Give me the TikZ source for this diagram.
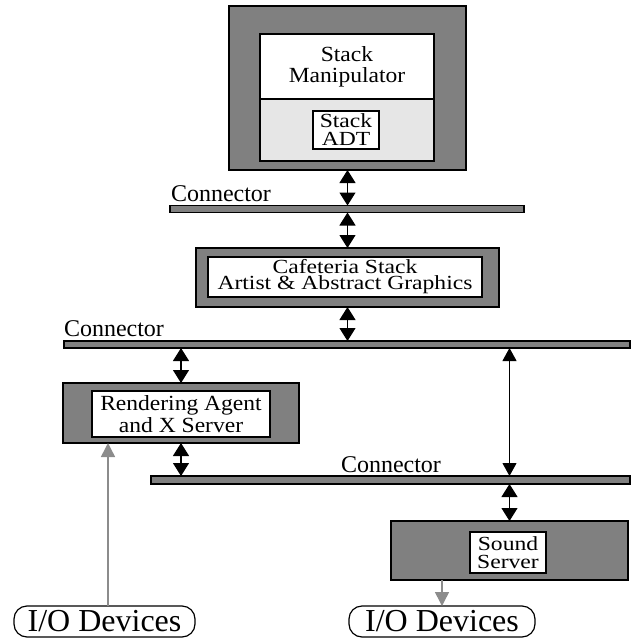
\documentclass[tikz,border=0pt]{standalone}
\usepackage{fontspec}
\setmainfont{Liberation Serif}
\newfontfamily\boxfont[FakeStretch=1.18]{Liberation Serif}
\newfontfamily\wideboxfont[FakeStretch=1.09]{Liberation Serif}
\usetikzlibrary{arrows.meta}

\definecolor{boxgray}{HTML}{808080}
\definecolor{lightfill}{HTML}{E6E6E6}
\definecolor{linkgray}{HTML}{8C8C8C}

\tikzset{
  every node/.style={inner sep=0pt, outer sep=0pt},
  outerbox/.style={draw, line width=1.2pt, fill=boxgray},
  innerbox/.style={draw, line width=1.2pt, fill=white, align=center,
    font=\boxfont\fontsize{20}{#1}\selectfont},
  innerbox/.default=18,
  wideinnerbox/.style={draw, line width=1.2pt, fill=white, align=center,
    font=\wideboxfont\fontsize{21.6}{#1}\selectfont},
  conbar/.style={draw, line width=1.2pt, fill=boxgray, minimum height=7pt},
  conlabel/.style={anchor=base west, font=\fontsize{24}{24}\selectfont},
  iodev/.style={draw, line width=1.2pt, rounded corners=13pt, minimum height=31pt,
    font=\fontsize{32}{32}\selectfont},
  biarrow/.style={line width=1.2pt, {Triangle[width=16pt,length=13pt]}-{Triangle[width=16pt,length=13pt]}},
  longarrow/.style={line width=1pt, {Triangle[width=14pt,length=13pt]}-{Triangle[width=14pt,length=13pt]}},
  grayarrow/.style={draw=linkgray, line width=1.5pt, -{Triangle[width=14pt,length=14pt]}, linkgray}
}

\begin{document}
\begin{tikzpicture}[x=1pt,y=-1pt]
\useasboundingbox (0,0) rectangle (631,638);

% Stack manipulator
\node[outerbox, minimum width=237pt, minimum height=164pt] (manip) at (347.5,88) {};
\node[wideinnerbox=21, minimum width=174pt, minimum height=65pt] (maniptxt) at (347,66.5) {Stack\\Manipulator};
\node[draw, line width=1.2pt, fill=lightfill, minimum width=174pt, minimum height=62pt] (adtarea) at (347,130) {};
\node[innerbox, minimum width=66pt, minimum height=38pt] (adt) at (346,130) {Stack\\ADT};

% Connectors
\node[conbar, minimum width=354pt] (bar1) at (347,209) {};
\node[conbar, minimum width=566pt] (bar2) at (347,344.5) {};
\node[conbar, minimum width=479pt, minimum height=8pt] (bar3) at (390.5,480) {};
\node[conlabel] (lbl1) at (171,201) {Connector};
\node[conlabel] (lbl2) at (64,336) {Connector};
\node[conlabel] (lbl3) at (341,472) {Connector};

% Cafeteria
\node[outerbox, minimum width=303pt, minimum height=59pt] (cafe) at (347.5,277.5) {};
\node[innerbox=16, minimum width=274pt, minimum height=40pt] (cafetxt) at (345,277) {Cafeteria Stack\\Artist \& Abstract Graphics};

% Rendering agent
\node[outerbox, minimum width=236pt, minimum height=60pt] (render) at (181,413) {};
\node[wideinnerbox=22, minimum width=178pt, minimum height=46pt] (rendertxt) at (181,414) {Rendering Agent\\and X Server};

% Sound server
\node[outerbox, minimum width=237pt, minimum height=59pt] (sound) at (509.5,550.5) {};
\node[innerbox, minimum width=76pt, minimum height=41pt] (soundtxt) at (508,552.5) {Sound\\Server};

% I/O devices
\node[iodev, minimum width=181pt] (io1) at (104.5,621.5) {I/O Devices};
\node[iodev, minimum width=186pt] (io2) at (442,621.5) {I/O Devices};

% Links
\draw[biarrow] (manip.south) -- (manip.south |- bar1.north);
\draw[biarrow] (cafe.north |- bar1.south) -- (cafe.north);
\draw[biarrow] (cafe.south) -- (cafe.south |- bar2.north);
\draw[biarrow] (render.north |- bar2.south) -- (render.north);
\draw[biarrow] (render.south) -- (render.south |- bar3.north);
\draw[longarrow] (sound.north |- bar2.south) -- (sound.north |- bar3.north);
\draw[biarrow] (sound.north |- bar3.south) -- (sound.north);

\coordinate (rendio) at (108,443);
\draw[grayarrow, {Triangle[width=14pt,length=14pt]}-] (rendio) -- (rendio |- io1.north);
\draw[grayarrow] (io2.north |- sound.south) -- (io2.north);

\end{tikzpicture}
\end{document}
